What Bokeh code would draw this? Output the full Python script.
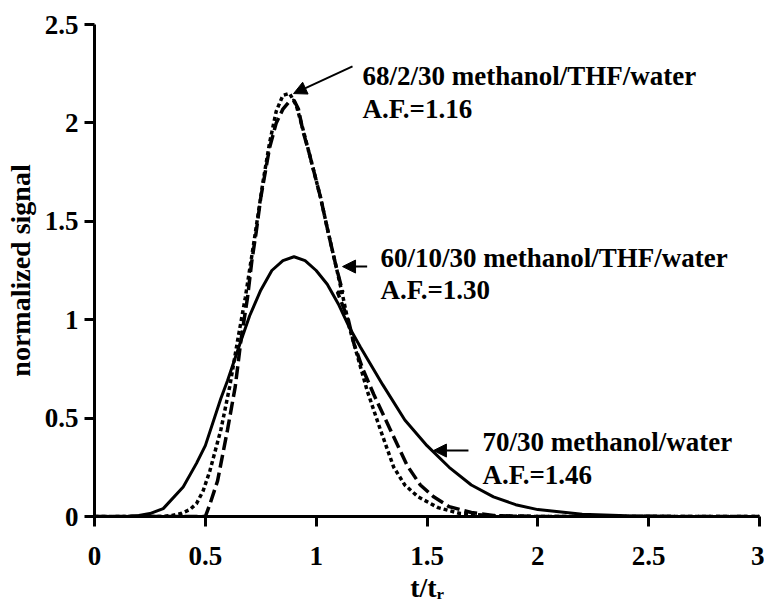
from bokeh.plotting import figure
from bokeh.models import FixedTicker, Label, Arrow, NormalHead, Range1d
from bokeh.embed import file_html
from bokeh.resources import INLINE

# ---- data ----
# 70/30 methanol/water (solid)
x_solid = [0, 0.15, 0.2, 0.25, 0.31, 0.4, 0.46, 0.5, 0.57, 0.6, 0.66, 0.7, 0.75, 0.8, 0.85, 0.9,
           0.95, 1.0, 1.05, 1.1, 1.15, 1.2, 1.3, 1.4, 1.5, 1.6, 1.7, 1.8, 1.9, 2.0, 2.2, 2.4, 2.6, 3.0]
y_solid = [0, 0.001, 0.005, 0.015, 0.04, 0.15, 0.27, 0.36, 0.60, 0.69, 0.89, 1.02, 1.15, 1.25, 1.30, 1.32,
           1.30, 1.25, 1.18, 1.08, 0.96, 0.86, 0.67, 0.49, 0.36, 0.25, 0.16, 0.10, 0.06, 0.035, 0.012, 0.004, 0.001, 0]

# 60/10/30 methanol/THF/water (dashed)
x_dash = [0, 0.5, 0.52, 0.555, 0.6, 0.635, 0.66, 0.69, 0.71, 0.73, 0.75, 0.79, 0.82, 0.85, 0.88, 0.90,
          0.92, 0.94, 0.97, 1.02, 1.055, 1.09, 1.12, 1.096, 1.145, 1.17, 1.21, 1.26, 1.335, 1.41, 1.47,
          1.53, 1.6, 1.7, 1.8, 2.0, 3.0]
y_dash = [0, 0, 0.06, 0.18, 0.44, 0.66, 0.89, 1.11, 1.30, 1.45, 1.62, 1.875, 2.0, 2.07, 2.11, 2.115,
          2.07, 1.96, 1.84, 1.62, 1.44, 1.27, 1.14, 1.14, 1.0, 0.88, 0.75, 0.62, 0.44, 0.26, 0.16,
          0.10, 0.05, 0.02, 0.005, 0, 0]

# 68/2/30 methanol/THF/water (dotted)
x_dot = [0, 0.3, 0.35, 0.39, 0.43, 0.46, 0.49, 0.52, 0.57, 0.61, 0.645, 0.68, 0.72, 0.76, 0.79, 0.82,
         0.85, 0.88, 0.91, 0.94, 0.97, 1.02, 1.055, 1.09, 1.12, 1.15, 1.2, 1.23, 1.29, 1.35, 1.40,
         1.46, 1.55, 1.65, 1.8, 2.0, 3.0]
y_dot = [0, 0, 0.005, 0.015, 0.035, 0.065, 0.13, 0.23, 0.44, 0.66, 0.89, 1.11, 1.40, 1.70, 1.90, 2.06,
         2.14, 2.15, 2.09, 1.97, 1.84, 1.62, 1.44, 1.27, 1.12, 0.96, 0.76, 0.64, 0.44, 0.25, 0.16,
         0.10, 0.045, 0.015, 0.003, 0, 0]

x_ticks = [0, 0.5, 1, 1.5, 2, 2.5, 3]
x_tick_labels = ["0", "0.5", "1", "1.5", "2", "2.5", "3"]
y_ticks = [0, 0.5, 1, 1.5, 2, 2.5]
y_tick_labels = ["0", "0.5", "1", "1.5", "2", "2.5"]

x_title = "t/t\u1d63"
y_title = "normalized signal"

ann_lines = ["68/2/30 methanol/THF/water", "A.F.=1.16",
             "60/10/30 methanol/THF/water", "A.F.=1.30",
             "70/30 methanol/water", "A.F.=1.46"]
ann_x = [1.209, 1.209, 1.29, 1.29, 1.75, 1.75]
ann_y = [2.236, 2.073, 1.316, 1.153, 0.381, 0.213]

# arrows: (x_start, y_start, x_end, y_end)
arrows = [(1.164, 2.287, 0.898, 2.149),
          (1.23, 1.27, 1.119, 1.27),
          (1.687, 0.335, 1.529, 0.335)]

FONT = "Liberation Serif"

p = figure(width=764, height=605, output_backend="svg", toolbar_location=None,
           x_range=Range1d(0, 3), y_range=Range1d(0, 2.5),
           min_border_left=94, min_border_right=5, min_border_top=24, min_border_bottom=89)
p.background_fill_color = "white"
p.border_fill_color = "white"
p.outline_line_color = None
p.grid.visible = False

p.line(x_solid, y_solid, line_color="black", line_width=3)
p.line(x_dash, y_dash, line_color="black", line_width=3.5, line_dash="13 5")
p.line(x_dot, y_dot, line_color="black", line_width=3.5, line_dash="4 3")

for ax, ticks, labels, title in ((p.xaxis[0], x_ticks, x_tick_labels, x_title),
                                 (p.yaxis[0], y_ticks, y_tick_labels, y_title)):
    ax.ticker = FixedTicker(ticks=ticks)
    ax.major_label_overrides = {t: l for t, l in zip(ticks, labels)}
    ax.axis_line_width = 3
    ax.axis_line_color = "black"
    ax.major_tick_line_width = 3
    ax.major_tick_out = 10
    ax.major_tick_in = 0
    ax.minor_tick_line_color = None
    ax.major_label_text_font = FONT
    ax.major_label_text_font_style = "bold"
    ax.major_label_text_font_size = "27px"
    ax.major_label_text_color = "black"
    ax.axis_label = title
    ax.axis_label_text_font = FONT
    ax.axis_label_text_font_style = "bold"
    ax.axis_label_text_font_size = "28px"
    ax.axis_label_text_color = "black"

p.xaxis.major_label_standoff = 20
p.xaxis.axis_label_standoff = 4
p.yaxis.major_label_standoff = 6
p.yaxis.axis_label_standoff = 6

for t, xx, yy in zip(ann_lines, ann_x, ann_y):
    p.add_layout(Label(x=xx, y=yy, text=t, text_font=FONT, text_font_style="bold",
                       text_font_size="27px", text_color="black",
                       text_align="left", text_baseline="middle"))

for xs, ys, xe, ye in arrows:
    p.add_layout(Arrow(end=NormalHead(size=13, fill_color="black", line_color="black"),
                       x_start=xs, y_start=ys, x_end=xe, y_end=ye,
                       line_color="black", line_width=2))

open("out.html", "w").write(file_html(p, INLINE))
